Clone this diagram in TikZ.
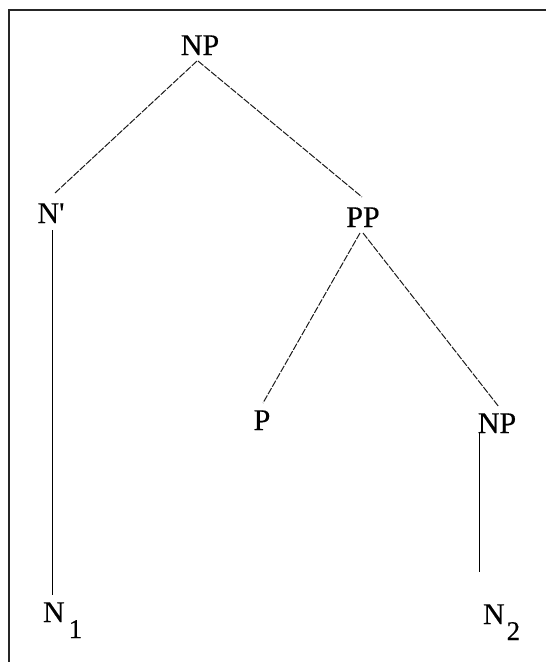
\documentclass[tikz,border=0pt]{standalone}
\usepackage{fontspec}
\setmainfont{Liberation Serif}[FakeBold=0.4]
\begin{document}
\begin{tikzpicture}[x=1pt,y=-1pt,
  lbl/.style={inner sep=0pt,outer sep=0pt,anchor=base,font=\fontsize{30}{34}\selectfont},
  branch/.style={line width=1pt,black!90,dash pattern=on 7pt off 1.5pt},
  unary/.style={line width=1pt,black}]
\useasboundingbox (0,0) rectangle (546,662);
% frame (top and left edges)
\draw[line width=1.6pt,black!85] (9,662) -- (9,10) -- (546,10);
% nodes
\node[lbl] (np0) at (200,55) {NP};
\node[lbl] (nbar) at (51,223) {N\textquotesingle};
\node[lbl] (pp) at (363,227) {PP};
\node[lbl] (p) at (262,430) {P};
\node[lbl] (np2) at (497,433) {NP};
\node[lbl,anchor=base west] (n1) at (43,622) {N\kern4pt\raisebox{-16pt}{\fontsize{27}{28}\selectfont 1}};
\node[lbl,anchor=base west] (n2) at (483,624) {N\kern2pt\raisebox{-16pt}{\fontsize{27}{28}\selectfont 2}};
% connectors
\draw[branch] ([shift={(-3,6)}]np0.south) -- ([shift={(4,-30)}]nbar.base);
\draw[branch] ([shift={(-2,6)}]np0.south) -- ([shift={(-1,-30)}]pp.base);
\draw[branch] ([shift={(-3,6)}]pp.base) -- ([shift={(1,-27)}]p.base);
\draw[branch] ([shift={(0,6)}]pp.base) -- ([shift={(2,-26)}]np2.base);
\draw[unary] ([shift={(1,7)}]nbar.base) -- ([shift={(9,-27)}]n1.base west);
\draw[unary] ([shift={(-18,0)}]np2.base) -- ([shift={(-4,-52)}]n2.base west);
\end{tikzpicture}
\end{document}
